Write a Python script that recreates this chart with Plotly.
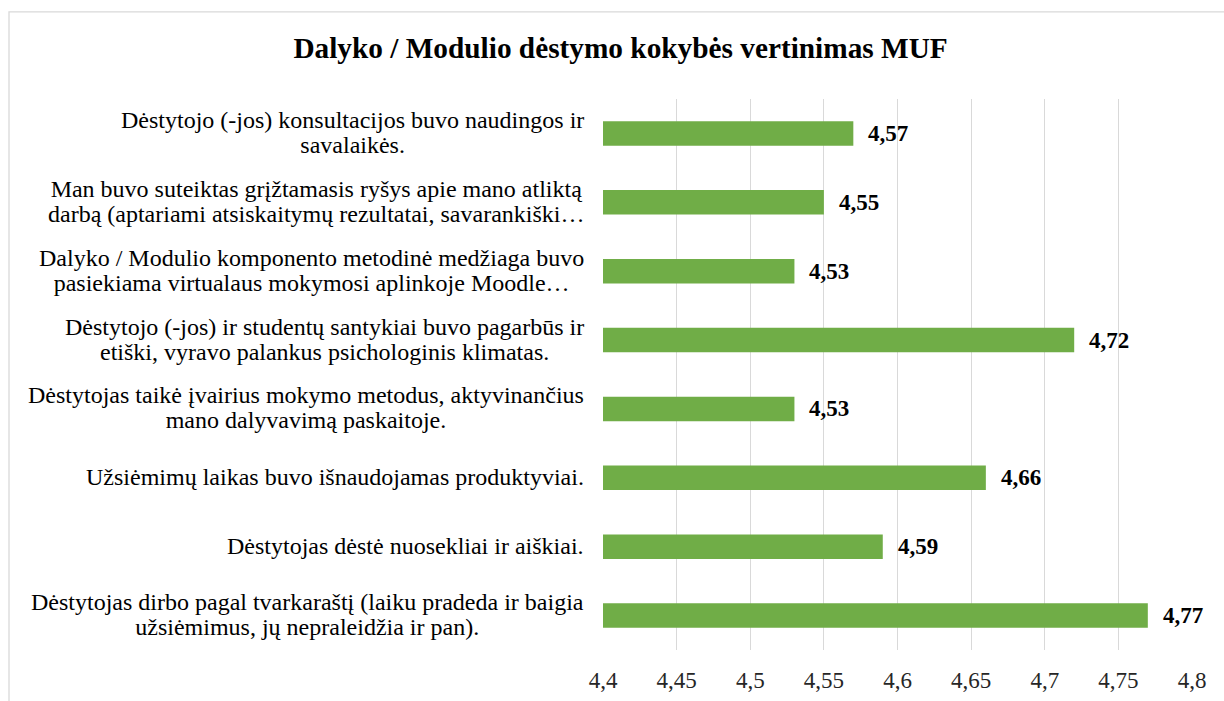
import plotly.graph_objects as go

# chart data (top to bottom as in the original)
questions = [
    "Dėstytojo (-jos) konsultacijos buvo naudingos ir<br>savalaikės.",
    "Man buvo suteiktas grįžtamasis ryšys apie mano atliktą<br>darbą (aptariami atsiskaitymų rezultatai, savarankiški…",
    "Dalyko / Modulio komponento metodinė medžiaga buvo<br>pasiekiama virtualaus mokymosi aplinkoje Moodle…",
    "Dėstytojo (-jos) ir studentų santykiai buvo pagarbūs ir<br>etiški, vyravo palankus psichologinis klimatas.",
    "Dėstytojas taikė įvairius mokymo metodus, aktyvinančius<br>mano dalyvavimą paskaitoje.",
    "Užsiėmimų laikas buvo išnaudojamas produktyviai.",
    "Dėstytojas dėstė nuosekliai ir aiškiai.",
    "Dėstytojas dirbo pagal tvarkaraštį (laiku pradeda ir baigia<br>užsiėmimus, jų nepraleidžia ir pan).",
]
scores = [4.57, 4.55, 4.53, 4.72, 4.53, 4.66, 4.59, 4.77]
x_ticks = [4.4, 4.45, 4.5, 4.55, 4.6, 4.65, 4.7, 4.75, 4.8]
x_min, x_max = 4.4, 4.8

title = "Dalyko / Modulio dėstymo kokybės vertinimas MUF"
FONT = "'Liberation Serif', 'Times New Roman', Times, serif"
GREEN = "#70AD47"

cat_ids = [f"q{i}" for i in range(len(questions))]

fig = go.Figure(go.Bar(
    x=[s - x_min for s in scores],
    y=cat_ids,
    base=x_min,
    orientation="h",
    marker=dict(color=GREEN, line=dict(width=0)),
    width=0.356,
    hoverinfo="skip",
))

annotations = []
# category labels: centred lines; small base font keeps Excel's tight line gap,
# the span gives the real glyph size
for cid, q in zip(cat_ids, questions):
    text = "<br>".join(f'<span style="font-size:24px">{ln}</span>' for ln in q.split("<br>"))
    annotations.append(dict(
        x=0, xref="paper", y=cid, yref="y", yshift=1,
        text=text, showarrow=False, xanchor="right", yanchor="middle", align="center",
        xshift=-17, font=dict(family=FONT, size=19.2, color="#000000"),
    ))
# value labels
for cid, s in zip(cat_ids, scores):
    annotations.append(dict(
        x=s, xref="x", y=cid, yref="y",
        text=f"<b>{s:.2f}</b>".replace(".", ","), showarrow=False,
        xanchor="left", xshift=13, font=dict(family=FONT, size=23, color="#000000"),
    ))

fig.update_layout(
    width=1224, height=701,
    margin=dict(l=603, r=32, t=99, b=51),
    paper_bgcolor="white", plot_bgcolor="white",
    separators=", ",
    showlegend=False,
    title=dict(
        text=f"<b>{title}</b>", x=0.507, xanchor="center", y=0.932, yanchor="middle",
        font=dict(family=FONT, size=29.3, color="#000000"),
    ),
    annotations=annotations,
    xaxis=dict(
        range=[x_min, x_max], tickvals=x_ticks, automargin=False,
        showgrid=True, gridcolor="#D9D9D9", gridwidth=1.3,
        zeroline=False, showline=False,
        ticks="outside", ticklen=9, tickcolor="rgba(0,0,0,0)",
        tickfont=dict(family=FONT, size=23, color="#262626"),
    ),
    yaxis=dict(
        categoryorder="array", categoryarray=cat_ids, autorange="reversed", automargin=False,
        showticklabels=False, showgrid=False, zeroline=False, showline=False,
    ),
    # light chart frame (cut off at the right/bottom like the screenshot)
    shapes=[
        dict(type="rect", xref="paper", yref="paper", x0=-1.0085, x1=1.2, y0=1.158, y1=-0.3,
             line=dict(color="#D9D9D9", width=1.3), fillcolor="rgba(0,0,0,0)", layer="below"),
    ],
)

fig.write_html("out.html", config={"displayModeBar": False},
               post_script="document.body.style.margin='0';")
